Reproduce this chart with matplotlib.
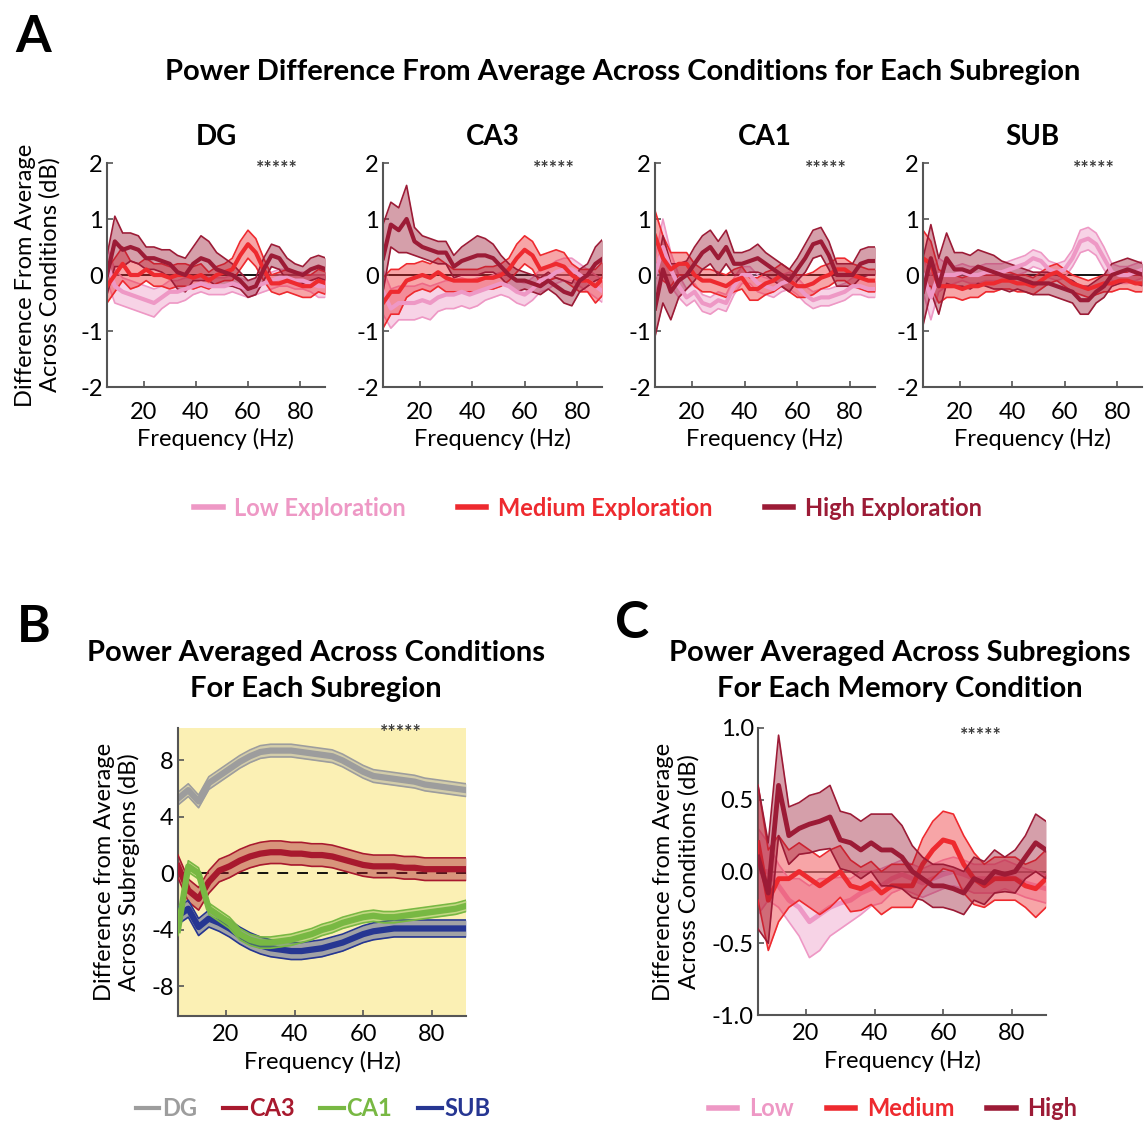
import numpy as np
import matplotlib
matplotlib.use("Agg")
import matplotlib.pyplot as plt
from matplotlib.lines import Line2D

plt.rcParams['font.family'] = ['Lato', 'DejaVu Sans']
plt.rcParams['axes.unicode_minus'] = False

# frequency grid (Hz)
FREQ = [6, 9, 12, 15, 18, 21, 24, 27, 30, 33, 36, 39, 42, 45, 48,
        51, 54, 57, 60, 63, 66, 69, 72, 75, 78, 81, 84, 87, 90]

# ---- panel A: difference from average across conditions (dB), mean + sem
DG_low = [0.2, -0.2, -0.3, -0.35, -0.4, -0.45, -0.5, -0.4, -0.3, -0.3, -0.25, -0.2, -0.15, -0.2, -0.2,
          -0.2, -0.15, -0.2, -0.25, -0.2, -0.15, -0.1, -0.05, -0.05, -0.1, -0.1, -0.15, -0.2, -0.2]
DG_low_sem = [0.3, 0.3, 0.25, 0.25, 0.25, 0.25, 0.25, 0.2, 0.2, 0.2, 0.2, 0.15, 0.15, 0.15, 0.15,
              0.15, 0.15, 0.15, 0.15, 0.15, 0.15, 0.15, 0.15, 0.15, 0.15, 0.15, 0.15, 0.2, 0.2]
DG_med = [-0.2, 0.0, 0.2, 0.0, 0.0, 0.1, 0.0, 0.0, -0.05, 0.0, 0.0, -0.05, 0.0, -0.1, 0.0,
          0.05, 0.1, 0.35, 0.55, 0.4, 0.1, -0.15, -0.15, -0.1, -0.15, -0.2, -0.2, -0.1, -0.15]
DG_med_sem = [0.3, 0.3, 0.3, 0.25, 0.2, 0.2, 0.2, 0.2, 0.2, 0.2, 0.2, 0.2, 0.2, 0.15, 0.15,
              0.15, 0.2, 0.25, 0.25, 0.25, 0.2, 0.15, 0.2, 0.2, 0.2, 0.2, 0.2, 0.2, 0.2]
DG_high = [0.0, 0.6, 0.45, 0.5, 0.45, 0.3, 0.3, 0.25, 0.2, 0.05, 0.0, 0.2, 0.3, 0.25, 0.1,
           0.05, 0.0, -0.1, -0.25, -0.2, 0.1, 0.35, 0.3, 0.1, 0.05, 0.0, 0.1, 0.15, 0.1]
DG_high_sem = [0.35, 0.45, 0.3, 0.25, 0.25, 0.2, 0.2, 0.2, 0.25, 0.3, 0.3, 0.3, 0.4, 0.35, 0.3,
               0.25, 0.2, 0.15, 0.15, 0.15, 0.2, 0.2, 0.2, 0.2, 0.15, 0.15, 0.2, 0.2, 0.2]

CA3_low = [-0.3, -0.6, -0.5, -0.5, -0.5, -0.45, -0.5, -0.4, -0.35, -0.35, -0.3, -0.35, -0.3, -0.25, -0.2,
           -0.15, -0.2, -0.3, -0.35, -0.25, -0.1, -0.05, 0.05, 0.1, 0.1, 0.0, -0.1, -0.2, -0.3]
CA3_low_sem = [0.4, 0.35, 0.3, 0.3, 0.3, 0.3, 0.3, 0.25, 0.25, 0.25, 0.25, 0.25, 0.25, 0.2, 0.2,
               0.2, 0.2, 0.2, 0.2, 0.2, 0.2, 0.2, 0.2, 0.2, 0.2, 0.2, 0.2, 0.2, 0.2]
CA3_med = [-0.5, -0.3, -0.3, -0.1, -0.05, 0.0, -0.05, 0.05, -0.05, -0.1, -0.1, -0.1, -0.1, -0.05, -0.05,
           0.0, 0.1, 0.3, 0.45, 0.35, 0.1, 0.15, 0.2, 0.15, 0.0, -0.1, -0.1, -0.2, -0.05]
CA3_med_sem = [0.45, 0.4, 0.4, 0.3, 0.25, 0.25, 0.25, 0.25, 0.25, 0.2, 0.2, 0.2, 0.2, 0.2, 0.2,
               0.2, 0.2, 0.25, 0.25, 0.25, 0.25, 0.25, 0.25, 0.25, 0.2, 0.2, 0.2, 0.3, 0.3]
CA3_high = [0.3, 0.9, 0.8, 1.0, 0.6, 0.5, 0.45, 0.4, 0.4, 0.15, 0.25, 0.3, 0.35, 0.35, 0.3,
            0.15, 0.0, -0.1, -0.1, -0.15, -0.2, -0.1, -0.2, -0.3, -0.35, -0.1, 0.0, 0.2, 0.3]
CA3_high_sem = [0.6, 0.4, 0.4, 0.6, 0.25, 0.2, 0.2, 0.2, 0.2, 0.2, 0.25, 0.3, 0.35, 0.3, 0.25,
                0.2, 0.2, 0.2, 0.15, 0.15, 0.15, 0.15, 0.15, 0.2, 0.2, 0.2, 0.2, 0.3, 0.35]

CA1_low = [0.0, 0.5, 0.1, -0.2, -0.4, -0.3, -0.5, -0.55, -0.45, -0.5, -0.2, 0.0, 0.0, -0.15, -0.2,
           -0.25, -0.15, -0.1, -0.2, -0.35, -0.45, -0.4, -0.4, -0.35, -0.3, -0.2, -0.2, -0.25, -0.25]
CA1_low_sem = [0.3, 0.5, 0.3, 0.2, 0.15, 0.15, 0.15, 0.15, 0.15, 0.15, 0.15, 0.15, 0.15, 0.15, 0.15,
               0.15, 0.15, 0.15, 0.15, 0.15, 0.15, 0.15, 0.15, 0.15, 0.15, 0.15, 0.15, 0.15, 0.15]
CA1_med = [0.7, 0.3, 0.1, 0.2, 0.2, 0.0, -0.1, -0.1, -0.15, -0.2, -0.1, -0.05, -0.25, -0.25, -0.15,
           -0.1, 0.0, -0.1, -0.2, -0.2, -0.15, -0.05, 0.0, 0.1, 0.1, 0.0, -0.05, -0.1, -0.1]
CA1_med_sem = [0.45, 0.4, 0.3, 0.2, 0.2, 0.2, 0.2, 0.2, 0.2, 0.2, 0.2, 0.2, 0.2, 0.2, 0.2,
               0.2, 0.2, 0.2, 0.2, 0.2, 0.2, 0.2, 0.2, 0.2, 0.2, 0.2, 0.2, 0.2, 0.2]
CA1_high = [-0.6, 0.1, -0.3, -0.1, 0.0, 0.2, 0.4, 0.5, 0.3, 0.5, 0.2, 0.2, 0.25, 0.3, 0.2,
            0.1, 0.0, -0.1, 0.1, 0.3, 0.55, 0.6, 0.35, 0.0, 0.0, 0.0, 0.2, 0.25, 0.25]
CA1_high_sem = [0.5, 0.6, 0.5, 0.3, 0.25, 0.3, 0.3, 0.3, 0.3, 0.3, 0.2, 0.2, 0.2, 0.25, 0.2,
                0.2, 0.2, 0.2, 0.2, 0.25, 0.25, 0.25, 0.25, 0.2, 0.2, 0.2, 0.25, 0.25, 0.25]

SUB_low = [0.0, -0.4, 0.0, 0.0, 0.0, 0.05, 0.0, 0.0, 0.05, 0.05, 0.05, 0.1, 0.15, 0.2, 0.3,
           0.25, 0.1, 0.05, 0.1, 0.3, 0.6, 0.65, 0.55, 0.3, 0.05, 0.0, 0.0, 0.05, 0.1]
SUB_low_sem = [0.3, 0.4, 0.3, 0.2, 0.15, 0.15, 0.15, 0.15, 0.15, 0.15, 0.15, 0.15, 0.15, 0.15, 0.15,
               0.15, 0.15, 0.15, 0.15, 0.15, 0.2, 0.2, 0.2, 0.2, 0.15, 0.15, 0.15, 0.15, 0.15]
SUB_med = [0.3, 0.2, -0.2, -0.2, -0.2, -0.25, -0.2, -0.2, -0.15, -0.15, -0.1, -0.1, -0.15, -0.15, -0.2,
           -0.1, 0.0, 0.05, -0.05, -0.15, -0.2, -0.25, -0.2, -0.15, -0.15, -0.1, -0.1, -0.15, -0.15]
SUB_med_sem = [0.5, 0.4, 0.3, 0.2, 0.2, 0.2, 0.2, 0.2, 0.15, 0.15, 0.15, 0.15, 0.15, 0.15, 0.15,
               0.15, 0.15, 0.15, 0.15, 0.15, 0.15, 0.15, 0.15, 0.15, 0.15, 0.15, 0.15, 0.15, 0.15]
SUB_high = [-0.3, 0.3, -0.2, 0.3, 0.1, 0.1, 0.05, 0.15, 0.1, 0.05, 0.0, -0.05, -0.05, -0.1, -0.15,
            -0.15, -0.15, -0.2, -0.25, -0.3, -0.45, -0.45, -0.3, -0.2, 0.0, 0.05, 0.1, 0.05, 0.0]
SUB_high_sem = [0.6, 0.6, 0.5, 0.45, 0.3, 0.3, 0.3, 0.3, 0.3, 0.3, 0.25, 0.25, 0.2, 0.2, 0.2,
                0.2, 0.2, 0.2, 0.2, 0.2, 0.25, 0.25, 0.2, 0.2, 0.2, 0.2, 0.2, 0.2, 0.2]

# ---- panel B: difference from average across subregions (dB)
B_DG = [5.3, 5.9, 5.1, 6.4, 6.9, 7.4, 7.9, 8.3, 8.6, 8.7, 8.7, 8.7, 8.6, 8.5, 8.4,
        8.3, 8.0, 7.6, 7.2, 6.9, 6.8, 6.7, 6.6, 6.5, 6.3, 6.2, 6.1, 6.0, 5.9]
B_DG_sem = [0.45] * 29
B_CA3 = [0.5, -1.2, -1.8, -0.6, 0.2, 0.5, 0.9, 1.2, 1.4, 1.5, 1.5, 1.4, 1.4, 1.3, 1.3,
         1.2, 1.0, 0.8, 0.6, 0.5, 0.5, 0.5, 0.4, 0.4, 0.3, 0.3, 0.3, 0.3, 0.3]
B_CA3_sem = [0.8] * 29
B_CA1 = [-4.0, 0.5, 0.0, -2.5, -3.0, -3.5, -4.3, -4.7, -4.9, -4.9, -4.8, -4.7, -4.5, -4.3, -4.0,
         -3.8, -3.5, -3.3, -3.1, -3.0, -3.1, -3.1, -3.0, -2.9, -2.8, -2.7, -2.6, -2.5, -2.3]
B_CA1_sem = [0.4] * 29
B_SUB = [-3.0, -2.5, -3.8, -3.2, -3.5, -3.9, -4.4, -4.8, -5.1, -5.3, -5.4, -5.5, -5.5, -5.4, -5.3,
         -5.1, -4.9, -4.6, -4.3, -4.1, -4.0, -3.9, -3.9, -3.9, -3.9, -3.9, -3.9, -3.9, -3.9]
B_SUB_sem = [0.6] * 29

# ---- panel C: averaged across subregions (dB)
C_low = [0.0, 0.0, -0.1, -0.2, -0.25, -0.35, -0.3, -0.25, -0.22, -0.2, -0.15, -0.12, -0.1, -0.05, -0.02,
         -0.05, -0.08, -0.05, -0.02, 0.0, -0.02, -0.05, -0.05, -0.05, -0.02, -0.05, -0.08, -0.1, -0.12]
C_low_sem = [0.3, 0.2, 0.15, 0.15, 0.2, 0.25, 0.25, 0.2, 0.18, 0.15, 0.15, 0.12, 0.12, 0.1, 0.1,
             0.1, 0.1, 0.1, 0.1, 0.1, 0.1, 0.1, 0.1, 0.1, 0.1, 0.1, 0.1, 0.1, 0.1]
C_med = [0.2, -0.2, -0.05, -0.05, 0.0, -0.05, -0.1, -0.05, 0.0, -0.1, -0.12, -0.08, -0.15, -0.1, -0.1,
         -0.1, 0.05, 0.15, 0.22, 0.2, 0.05, -0.05, -0.1, -0.05, -0.05, -0.05, -0.1, -0.12, -0.05]
C_med_sem = [0.4, 0.35, 0.3, 0.2, 0.2, 0.2, 0.2, 0.2, 0.18, 0.18, 0.15, 0.15, 0.15, 0.15, 0.15,
             0.15, 0.18, 0.2, 0.2, 0.2, 0.2, 0.18, 0.15, 0.15, 0.15, 0.15, 0.15, 0.2, 0.2]
C_high = [0.1, -0.15, 0.6, 0.25, 0.3, 0.33, 0.35, 0.38, 0.22, 0.2, 0.15, 0.2, 0.15, 0.15, 0.1,
          0.0, -0.05, -0.1, -0.1, -0.12, -0.15, -0.05, -0.08, 0.0, -0.02, 0.0, 0.1, 0.2, 0.15]
C_high_sem = [0.5, 0.35, 0.35, 0.2, 0.18, 0.2, 0.2, 0.22, 0.2, 0.2, 0.2, 0.2, 0.25, 0.25, 0.22,
              0.18, 0.15, 0.15, 0.15, 0.15, 0.15, 0.15, 0.15, 0.15, 0.12, 0.15, 0.15, 0.2, 0.2]

LOW_C, MED_C, HIGH_C = '#ee98c5', '#ee2a2f', '#9c1b36'
DG_C, CA3_C, CA1_C, SUB_C = '#9d9d9d', '#a8192e', '#78b843', '#263692'
AX_C = '#555555'

TICK_FS = 17
LABEL_FS = 17
TITLE_FS = 21

W, H = 1144, 1122
fig = plt.figure(figsize=(W / 100, H / 100), dpi=100)


def px_axes(l, t, r, b):
    return fig.add_axes([l / W, 1 - b / H, (r - l) / W, (b - t) / H])


def style(ax, xpad):
    for s in ['top', 'right']:
        ax.spines[s].set_visible(False)
    for s in ['left', 'bottom']:
        ax.spines[s].set_color(AX_C)
        ax.spines[s].set_linewidth(1.5)
    ax.tick_params(direction='in', length=4, width=1.2, color=AX_C, labelsize=TICK_FS, pad=3)
    ax.tick_params(axis='x', pad=xpad)
    ax.set_xticks([20, 40, 60, 80])


def band(ax, mean, sem, color, lw=3, z=2):
    x = np.array(FREQ)
    m, s = np.array(mean), np.array(sem)
    ax.fill_between(x, m - s, m + s, color=color, alpha=0.42, lw=0, zorder=z)
    ax.plot(x, m - s, color=color, lw=1.2, zorder=z)
    ax.plot(x, m + s, color=color, lw=1.2, zorder=z)
    ax.plot(x, m, color=color, lw=lw, zorder=z + 0.5)


def stars(ax, y):
    ax.text(71, y, '*****', fontsize=14, fontweight='bold', color='#3a3a3a',
            ha='center', va='center', zorder=10)


# ---------------- panel A
fig.text(33 / W, 1 - 38 / H, 'A', fontsize=37, fontweight='bold', ha='center', va='center')
fig.text(623 / W, 1 - 72 / H, 'Power Difference From Average Across Conditions for Each Subregion',
         fontsize=TITLE_FS, fontweight='bold', ha='center', va='center')

regions_a = [
    ('DG', (107, 325), [(DG_low, DG_low_sem), (DG_med, DG_med_sem), (DG_high, DG_high_sem)]),
    ('CA3', (383, 602), [(CA3_low, CA3_low_sem), (CA3_med, CA3_med_sem), (CA3_high, CA3_high_sem)]),
    ('CA1', (655, 875), [(CA1_low, CA1_low_sem), (CA1_med, CA1_med_sem), (CA1_high, CA1_high_sem)]),
    ('SUB', (923, 1142), [(SUB_low, SUB_low_sem), (SUB_med, SUB_med_sem), (SUB_high, SUB_high_sem)]),
]
for i, (name, (l, r), series) in enumerate(regions_a):
    ax = px_axes(l, 163, r, 387)
    style(ax, xpad=11)
    ax.axhline(0, color='black', lw=1.3, zorder=1)
    for (m, s), c in zip(series, [LOW_C, MED_C, HIGH_C]):
        band(ax, m, s, c)
    ax.set_xlim(6, 89.5)
    ax.set_ylim(-2, 2)
    ax.set_yticks([-2, -1, 0, 1, 2])
    ax.set_title(name, fontsize=20, fontweight='bold', pad=13)
    ax.set_xlabel('Frequency (Hz)', fontsize=LABEL_FS, labelpad=3)
    stars(ax, 1.9)
    if i == 0:
        ax.set_ylabel('Difference From Average\nAcross Conditions (dB)', fontsize=LABEL_FS,
                      labelpad=14, linespacing=1.2)

handles_a = [Line2D([], [], color=c, lw=4) for c in [LOW_C, MED_C, HIGH_C]]
leg = fig.legend(handles_a, ['Low Exploration', 'Medium Exploration', 'High Exploration'],
                 loc='center', bbox_to_anchor=(588 / W, 1 - 508 / H), ncol=3, frameon=False,
                 handlelength=1.2, columnspacing=2.2, handletextpad=0.5,
                 prop={'size': 17, 'weight': 'bold'})
for t, c in zip(leg.get_texts(), [LOW_C, MED_C, HIGH_C]):
    t.set_color(c)

# ---------------- panel B
fig.text(34 / W, 1 - 627 / H, 'B', fontsize=37, fontweight='bold', ha='center', va='center')
fig.text(316 / W, 1 - 671 / H, 'Power Averaged Across Conditions\nFor Each Subregion',
         fontsize=TITLE_FS, fontweight='bold', ha='center', va='center', linespacing=1.5)
axb = px_axes(178, 728, 466, 1016)
style(axb, xpad=6)
axb.set_facecolor('#fbf0b4')
axb.plot([6, 90], [0, 0], color='black', lw=1.3, ls=(0, (6, 5)), zorder=1)
band(axb, B_DG, B_DG_sem, DG_C, lw=4.5, z=2)
band(axb, B_CA3, B_CA3_sem, CA3_C, lw=4.5, z=3)
band(axb, B_SUB, B_SUB_sem, SUB_C, lw=4.5, z=4)
band(axb, B_CA1, B_CA1_sem, CA1_C, lw=4.5, z=5)
axb.set_xlim(6, 90)
axb.set_ylim(-10.1, 10.3)
axb.set_yticks([-8, -4, 0, 4, 8])
axb.set_xlabel('Frequency (Hz)', fontsize=LABEL_FS, labelpad=4)
axb.set_ylabel('Difference from Average\nAcross Subregions (dB)', fontsize=LABEL_FS,
               labelpad=8, linespacing=1.2)
stars(axb, 9.95)

handles_b = [Line2D([], [], color=c, lw=3) for c in [DG_C, CA3_C, CA1_C, SUB_C]]
leg = fig.legend(handles_b, ['DG', 'CA3', 'CA1', 'SUB'], loc='center',
                 bbox_to_anchor=(313 / W, 1 - 1109 / H), ncol=4, frameon=False,
                 handlelength=1.0, columnspacing=1.1, handletextpad=0.1,
                 prop={'size': 17, 'weight': 'bold'})
for t, c in zip(leg.get_texts(), [DG_C, CA3_C, CA1_C, SUB_C]):
    t.set_color(c)

# ---------------- panel C
fig.text(632 / W, 1 - 624 / H, 'C', fontsize=37, fontweight='bold', ha='center', va='center')
fig.text(900 / W, 1 - 671 / H, 'Power Averaged Across Subregions\nFor Each Memory Condition',
         fontsize=TITLE_FS, fontweight='bold', ha='center', va='center', linespacing=1.5)
axc = px_axes(758, 728, 1046, 1015)
style(axc, xpad=6)
axc.axhline(0, color='#555555', lw=1.2, zorder=1)
band(axc, C_low, C_low_sem, LOW_C, lw=3.5, z=2)
band(axc, C_med, C_med_sem, MED_C, lw=3.5, z=3)
band(axc, C_high, C_high_sem, HIGH_C, lw=3.5, z=4)
axc.set_xlim(6, 90)
axc.set_ylim(-1, 1)
axc.set_yticks([-1, -0.5, 0, 0.5, 1])
axc.set_yticklabels(['-1.0', '-0.5', '0.0', '0.5', '1.0'])
axc.set_xlabel('Frequency (Hz)', fontsize=LABEL_FS, labelpad=4)
axc.set_ylabel('Difference from Average\nAcross Conditions (dB)', fontsize=LABEL_FS,
               labelpad=9, linespacing=1.2)
stars(axc, 0.95)

leg = fig.legend(handles_a, ['Low', 'Medium', 'High'], loc='center',
                 bbox_to_anchor=(893 / W, 1 - 1109 / H), ncol=3, frameon=False,
                 handlelength=1.2, columnspacing=1.4, handletextpad=0.5,
                 prop={'size': 17, 'weight': 'bold'})
for t, c in zip(leg.get_texts(), [LOW_C, MED_C, HIGH_C]):
    t.set_color(c)

fig.savefig('out.png', dpi=100)
